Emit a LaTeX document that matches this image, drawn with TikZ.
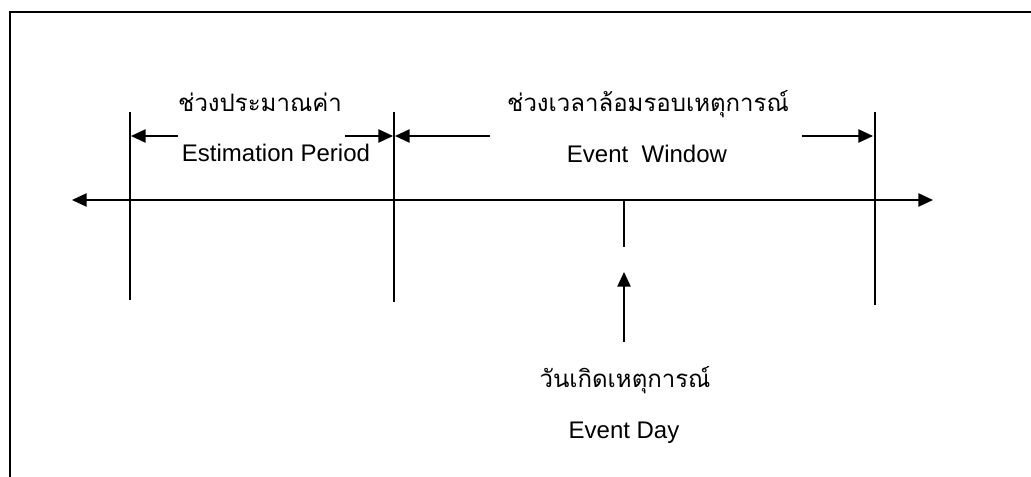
\documentclass[tikz,border=0pt]{standalone}
\usepackage{fontspec}
\setmainfont{Liberation Sans}
\newfontfamily\thaifont[Script=Thai]{Loma}
\usetikzlibrary{arrows.meta}
\begin{document}
\begin{tikzpicture}[x=0.75pt,y=-0.75pt,
  ln/.style={line width=1.1pt},
  tip/.style={-{Triangle[length=11pt,width=10pt]}},
  th/.style={font=\thaifont\fontsize{18}{20}\selectfont, anchor=base, inner sep=0pt},
  en/.style={font=\fontsize{18}{20}\selectfont, anchor=base, inner sep=0pt}]
\useasboundingbox (0,0) rectangle (1031,477);
% frame
\draw[line width=1.5pt] (10,477) -- (10,12) -- (1031,12);
% coordinates
\coordinate (mL) at (72,200);
\coordinate (mR) at (933,200);
\coordinate (v1t) at (130,112); \coordinate (v1b) at (130,300);
\coordinate (v2t) at (394,112); \coordinate (v2b) at (394,302);
\coordinate (v3t) at (875,112); \coordinate (v3b) at (875,305);
\coordinate (tkt) at (624,200); \coordinate (tkb) at (624,247);
\coordinate (edS) at (624,342); \coordinate (edE) at (624,272);
\coordinate (a1s) at (178,136); \coordinate (a1e) at (131,136);
\coordinate (a2s) at (345,136); \coordinate (a2e) at (393,136);
\coordinate (a3s) at (490,136); \coordinate (a3e) at (395,136);
\coordinate (a4s) at (802,136); \coordinate (a4e) at (873,136);
% main axis
\draw[ln,{Triangle[length=11pt,width=10pt]}-{Triangle[length=11pt,width=10pt]}] (mL) -- (mR);
\draw[ln] (v1t) -- (v1b);
\draw[ln] (v2t) -- (v2b);
\draw[ln] (v3t) -- (v3b);
\draw[ln] (tkt) -- (tkb);
\draw[ln,tip] (edS) -- (edE);
\draw[ln,tip] (a1s) -- (a1e);
\draw[ln,tip] (a2s) -- (a2e);
\draw[ln,tip] (a3s) -- (a3e);
\draw[ln,tip] (a4s) -- (a4e);
% labels
\node[th] (t1) at (260,112) {ช่วงประมาณค่า};
\node[en] (e1) at (276,162) {Estimation Period};
\node[th] (t2) at (648,112) {ช่วงเวลาล้อมรอบเหตุการณ์};
\node[en] (e2) at (647,163) {Event\ \ Window};
\node[th] (t3) at (625,387) {วันเกิดเหตุการณ์};
\node[en] (e3) at (624,438) {Event Day};
\end{tikzpicture}
\end{document}
